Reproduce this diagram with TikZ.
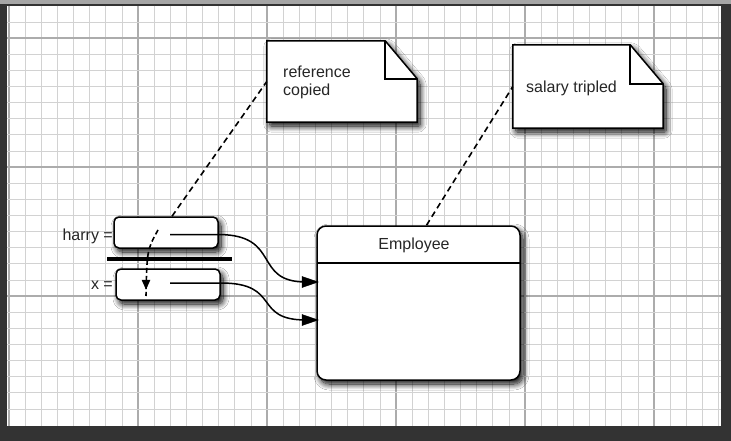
\documentclass[tikz,border=0pt]{standalone}
\usepackage{fontspec}
\setmainfont{Liberation Sans}
\usetikzlibrary{shadows.blur}
\tikzset{
  shd/.style={blur shadow={shadow xshift=3pt, shadow yshift=-4pt, shadow blur radius=6pt, shadow blur steps=12, shadow opacity=100, shadow blur extra rounding=2pt}},
  refbox/.style={draw=black, line width=1.5pt, fill=white, rounded corners=5pt, minimum width=104pt, minimum height=31pt, inner sep=0pt, shd},
  txt/.style={font=\fontsize{16}{18}\selectfont, inner sep=0pt, align=left, text=black!85},
  notepath/.style={draw=black, line width=1.5pt, fill=white, shd},
  dashline/.style={line width=1.6pt, dash pattern=on 6pt off 4pt},
  pointer/.style={line width=1.5pt},
  tiphead/.style={fill=black, draw=black, line width=0.5pt, line join=miter},
  minorline/.style={gray!35, line width=0.6pt},
  majorline/.style={gray!65, line width=1.1pt},
}
\begin{document}
\begin{tikzpicture}[x=1pt,y=-1pt]
\useasboundingbox (0,0) rectangle (731,441);
% frame
\fill[black!80] (0,0) rectangle (731,441);
\fill[gray!70] (0,0) rectangle (731,4);
\fill[white] (7,6) rectangle (721,426);
% grid
\foreach \i in {0,...,44}{
  \pgfmathsetmacro{\xx}{9+\i*16.125}
  \pgfmathtruncatemacro{\mm}{mod(\i,8)}
  \ifnum\mm=0 \draw[majorline] (\xx,6) -- (\xx,426);
  \else \draw[minorline] (\xx,6) -- (\xx,426); \fi
}
\foreach \j in {1,...,25}{
  \pgfmathsetmacro{\yy}{5.75+\j*16.125}
  \pgfmathtruncatemacro{\mm}{mod(\j,8)}
  \ifnum\mm=2 \draw[majorline] (7,\yy) -- (721,\yy);
  \else \draw[minorline] (7,\yy) -- (721,\yy); \fi
}
% notes
\node[minimum width=150pt, minimum height=81pt, inner sep=0pt] (note1) at (342,81.5) {};
\path[notepath] (note1.north west) -- ([xshift=-32pt]note1.north east) -- ([yshift=-38pt]note1.north east) -- (note1.south east) -- (note1.south west) -- cycle;
\draw[line width=1.5pt] ([xshift=-32pt]note1.north east) |- ([yshift=-38pt]note1.north east);
\node[txt, anchor=west] (note1txt) at (283,82) {reference\\copied};

\node[minimum width=150pt, minimum height=83pt, inner sep=0pt] (note2) at (588,86.5) {};
\path[notepath] (note2.north west) -- ([xshift=-33pt]note2.north east) -- ([yshift=-39pt]note2.north east) -- (note2.south east) -- (note2.south west) -- cycle;
\draw[line width=1.5pt] ([xshift=-33pt]note2.north east) |- ([yshift=-39pt]note2.north east);
\node[txt, anchor=west] (note2txt) at (526,88) {salary tripled};

% employee
\node[draw=black, line width=1.5pt, fill=white, rounded corners=9pt, minimum width=203pt, minimum height=154pt, inner sep=0pt, shd] (emp) at (418.5,303) {};
\draw[line width=1.2pt] (317,263) coordinate (divl) -- (520,263) coordinate (divr);
\node[txt] (emptxt) at (414,245) {Employee};

% reference boxes
\node[refbox] (harry) at (166,232.5) {};
\node[refbox] (xbox) at (168,284.5) {};
\node[txt, anchor=east] (harrylbl) at (113,236) {harry =};
\node[txt, anchor=east] (xlbl) at (113,285) {x =};
\draw[line width=4.5pt] (107,259) coordinate (barl) -- (232,259) coordinate (barr);

% pointers
\coordinate (hstart) at (170,234.5);
\coordinate (xstart) at (170,283);
\coordinate (hend) at (318,282);
\coordinate (xend) at (318,320);
\draw[pointer] (hstart) -- (harry.east |- hstart) .. controls (282,235) and (252,282) .. ([xshift=-12pt]hend);
\draw[tiphead] (hend) -- ++(-16,-5.5) -- ++(0,11) -- cycle;
\draw[pointer] (xstart) -- (xbox.east |- xstart) .. controls (282,283) and (252,320) .. ([xshift=-12pt]xend);
\draw[tiphead] (xend) -- ++(-16,-5.5) -- ++(0,11) -- cycle;

% dashed connectors
\draw[dashline] ([xshift=6pt]harry.north) -- (note1.west);
\draw[dashline] ([xshift=8pt]emp.north) -- (note2.west);
\coordinate (cpa) at (158,230);
\coordinate (cpb) at (146,289);
\draw[line width=1.6pt, dash pattern=on 5pt off 3pt] (cpa) .. controls (147,250) .. ([yshift=-7pt]cpb);
\draw[tiphead] (cpb) -- ++(-4,-9) -- ++(8,0) -- cycle;
\end{tikzpicture}
\end{document}
